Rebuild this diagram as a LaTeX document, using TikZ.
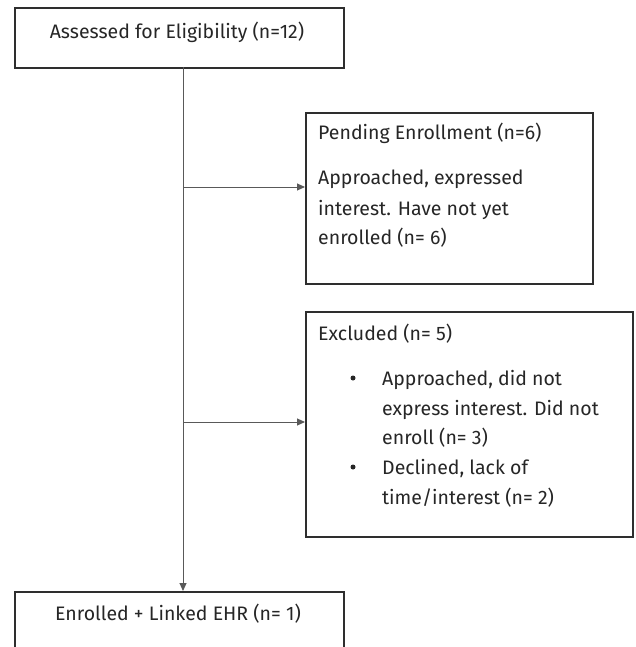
\documentclass[tikz,border=0pt]{standalone}
\usepackage{fontspec}
\setmainfont{Fira Sans}
\usetikzlibrary{arrows.meta}
\begin{document}
\begin{tikzpicture}[x=1pt,y=-1pt,
  box/.style={draw=black!82, line width=1.6pt, inner sep=0pt, anchor=north west, fill=white},
  txt/.style={text=black!85, font=\fontsize{19.5}{24}\selectfont, inner sep=0pt, anchor=base west},
  dot/.style={circle, fill=black!85, inner sep=0pt, minimum size=5pt},
  conn/.style={draw=black!65, line width=1pt},
  arr/.style={conn, -{Triangle[length=8pt,width=7pt]}}]
\useasboundingbox (0,0) rectangle (635,647);
\fill[white] (0,0) rectangle (635,647);
% boxes
\node[box, minimum width=329pt, minimum height=60pt] (b1) at (14,7) {};
\node[box, minimum width=287pt, minimum height=171pt] (b2) at (305,112) {};
\node[box, minimum width=327pt, minimum height=225pt] (b3) at (305,311) {};
\node[box, minimum width=329pt, minimum height=80pt] (b4) at (14,591) {};
% connectors
\coordinate (top) at (183,67);
\coordinate (j2) at (183,187);
\coordinate (j3) at (183,422);
\coordinate (bot) at (183,591);
\draw[arr] (top) -- (bot);
\draw[arr] (j2) -- (j2 -| b2.west);
\draw[arr] (j3) -- (j3 -| b3.west);
% texts
\node[txt, anchor=base] (t1) at (177,39) {Assessed for Eligibility (n=12)};
\node[txt] (t2a) at (318,140) {Pending Enrollment (n=6)};
\node[txt] (t2b) at (318,185) {Approached, expressed};
\node[txt] (t2c) at (318,215) {interest. Have not yet};
\node[txt] (t2d) at (318,244) {enrolled (n= 6)};
\node[txt] (t3a) at (318,340) {Excluded (n= 5)};
\node[txt] (t3b) at (382,385) {Approached, did not};
\node[txt] (t3c) at (382,415) {express interest. Did not};
\node[txt] (t3d) at (382,444) {enroll (n= 3)};
\node[txt] (t3e) at (382,474) {Declined, lack of};
\node[txt] (t3f) at (382,504) {time/interest (n= 2)};
\node[dot] (u1) at (353,378) {};
\node[dot] (u2) at (353,467) {};
\node[txt, anchor=base] (t4) at (178,620) {Enrolled + Linked EHR (n= 1)};
\end{tikzpicture}
\end{document}
